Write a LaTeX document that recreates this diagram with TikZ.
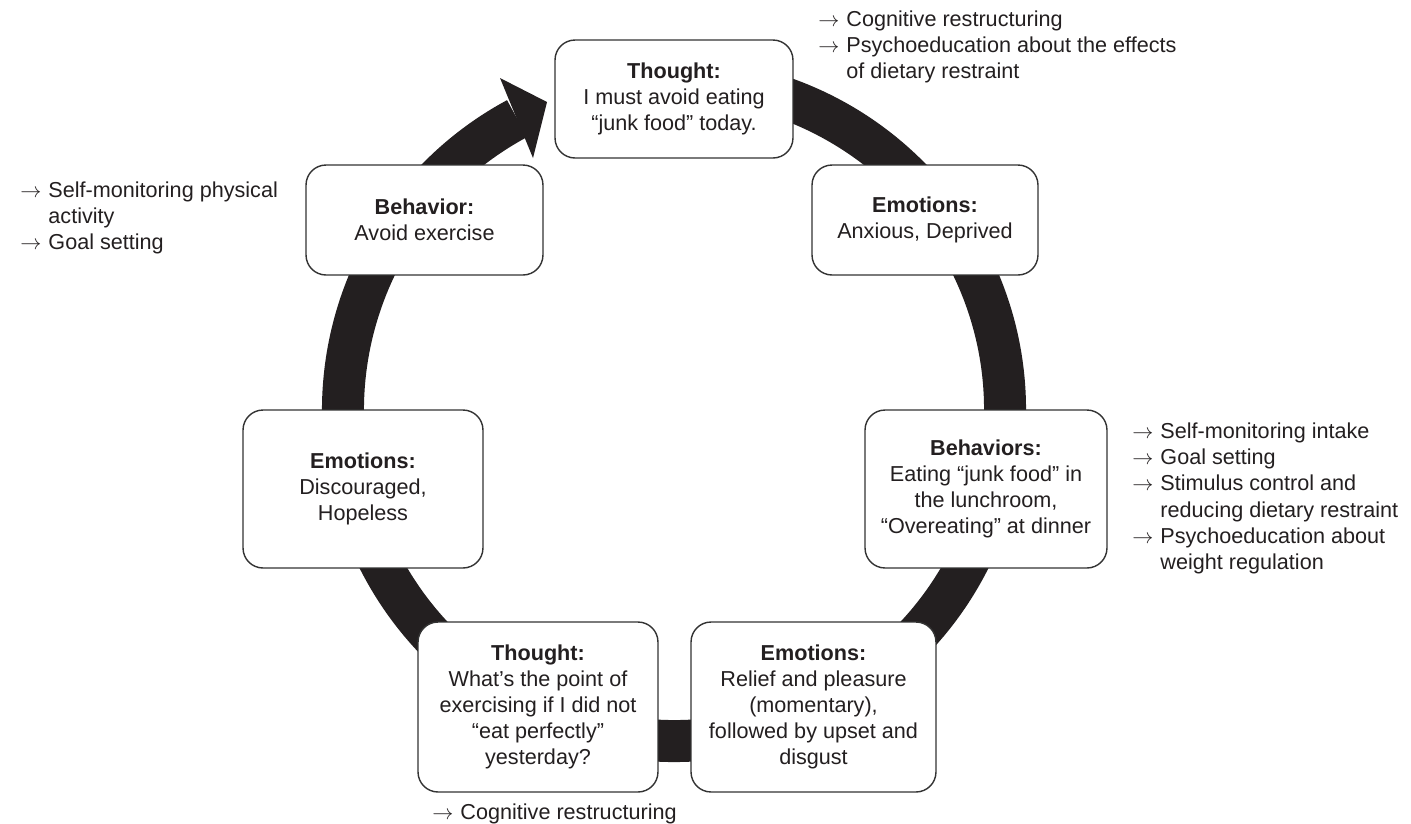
\documentclass[tikz,border=0pt]{standalone}
\usepackage{fontspec}
\setmainfont{Liberation Sans}
\usepackage{tikz}
\definecolor{inkgray}{HTML}{231F20}

\begin{document}
\begin{tikzpicture}[x=0.02cm,y=-0.02cm,
    main node/.style={draw=black!80,line width=0.8pt,fill=white,rounded corners=4mm,
                      align=center,text=inkgray,inner sep=2pt,
                      font=\fontsize{12.3}{14.8}\selectfont},
    note node/.style={anchor=base west,inner sep=0pt,text=inkgray,
                      font=\fontsize{12.3}{15}\selectfont}]
  \useasboundingbox (0,0) rectangle (1411,823);
  \coordinate (hub) at (674,410);
  % the cycle behind the boxes
  \draw[inkgray,line width=8.4mm] (hub) ++(-118.3:331) arc[start angle=-118.3,end angle=-468,radius=331];
  \fill[inkgray] (547,102) -- (500,78) -- (533,158) -- cycle;

  \node[main node,minimum width=4.76cm,minimum height=2.36cm] (1) at (674,99)
    {\textbf{Thought:}\\I must avoid eating\\``junk food'' today.};
  \node[main node,minimum width=4.52cm,minimum height=2.2cm] (2) at (925,220)
    {\textbf{Emotions:}\\Anxious, Deprived};
  \node[main node,minimum width=4.84cm,minimum height=3.16cm] (3) at (986,489)
    {\textbf{Behaviors:}\\Eating ``junk food'' in\\the lunchroom,\\``Overeating'' at dinner};
  \node[main node,minimum width=4.9cm,minimum height=3.4cm] (4) at (813.5,707)
    {\textbf{Emotions:}\\Relief and pleasure\\(momentary),\\followed by upset and\\disgust};
  \node[main node,minimum width=4.8cm,minimum height=3.4cm] (5) at (538,707)
    {\textbf{Thought:}\\What's the point of\\exercising if I did not\\``eat perfectly''\\yesterday?};
  \node[main node,minimum width=4.8cm,minimum height=3.16cm] (6) at (363,489)
    {\textbf{Emotions:}\\Discouraged,\\Hopeless};
  \node[main node,minimum width=4.74cm,minimum height=2.2cm] (7) at (424.5,220)
    {\textbf{Behavior:}\\Avoid exercise};

  % interventions
  \node[note node] (8) at (818,26)
    {\begin{tabular}[t]{@{}l@{\hspace{4pt}}l@{}}
      $\rightarrow$ & Cognitive restructuring\\
      $\rightarrow$ & Psychoeducation about the effects\\
                    & of dietary restraint
     \end{tabular}};
  \node[note node] (9) at (20,197)
    {\begin{tabular}[t]{@{}l@{\hspace{4pt}}l@{}}
      $\rightarrow$ & Self-monitoring physical\\
                    & activity\\
      $\rightarrow$ & Goal setting
     \end{tabular}};
  \node[note node] (10) at (1132,438)
    {\begin{tabular}[t]{@{}l@{\hspace{4pt}}l@{}}
      $\rightarrow$ & Self-monitoring intake\\
      $\rightarrow$ & Goal setting\\
      $\rightarrow$ & Stimulus control and\\
                    & reducing dietary restraint\\
      $\rightarrow$ & Psychoeducation about\\
                    & weight regulation
     \end{tabular}};
  \node[note node] (11) at (432,819)
    {\begin{tabular}[t]{@{}l@{\hspace{4pt}}l@{}}
      $\rightarrow$ & Cognitive restructuring
     \end{tabular}};
\end{tikzpicture}
\end{document}
